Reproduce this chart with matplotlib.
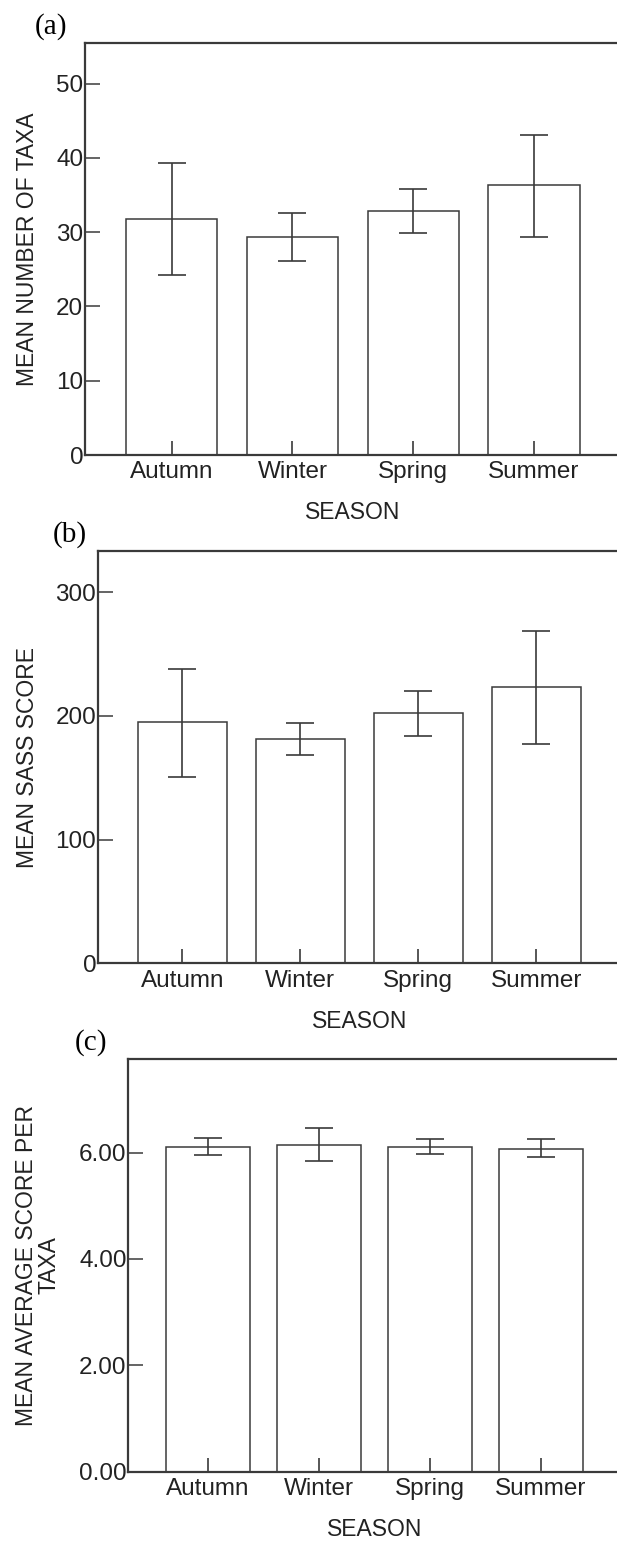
import matplotlib
matplotlib.use('agg')
import matplotlib.pyplot as plt
import numpy as np

seasons = ['Autumn', 'Winter', 'Spring', 'Summer']

# (a) mean number of taxa, with lower/upper error bar ends
taxa_mean = [31.8, 29.3, 32.9, 36.3]
taxa_lo = [24.2, 26.1, 29.9, 29.3]
taxa_hi = [39.3, 32.6, 35.8, 43.1]

# (b) mean SASS score
sass_mean = [194.8, 181.3, 202.3, 223.6]
sass_lo = [150.4, 168.1, 184.0, 177.0]
sass_hi = [237.9, 194.5, 220.1, 268.9]

# (c) mean average score per taxa
aspt_mean = [6.11, 6.15, 6.11, 6.07]
aspt_lo = [5.95, 5.84, 5.98, 5.91]
aspt_hi = [6.27, 6.47, 6.26, 6.26]

W, H = 617, 1544
LINE = '#3a3a3a'
TXT = '#222222'
SANS = ['Liberation Sans', 'DejaVu Sans']
SERIF = ['Liberation Serif', 'DejaVu Serif']

fig = plt.figure(figsize=(W / 100, H / 100), dpi=100)


def panel(box, mean, lo, hi, ymax, yticks, fmt, ylabel, ylabel_x, tag, tag_xy):
    left, top, right, bottom = box
    ax = fig.add_axes([left / W, 1 - bottom / H, (right - left) / W, (bottom - top) / H])
    ax.set_axisbelow(False)  # the inward x ticks show over the bar bases
    x = np.arange(len(seasons))
    mean = np.array(mean)
    err = [mean - np.array(lo), np.array(hi) - mean]
    ax.bar(x, mean, width=0.755, color='white', edgecolor=LINE, linewidth=1.1, zorder=2)
    ax.errorbar(x, mean, yerr=err, fmt='none', ecolor=LINE, elinewidth=1.2,
                capsize=10, capthick=1.2, zorder=3)
    ax.set_xlim(-0.72, 3.72)
    ax.set_ylim(0, ymax)
    ax.set_xticks(x)
    ax.set_xticklabels(seasons, family=SANS, fontsize=17.5, color=TXT)
    ax.set_yticks(yticks)
    ax.set_yticklabels([fmt.format(v) for v in yticks], family=SANS, fontsize=17.5,
                       color=TXT)
    ax.tick_params(axis='x', direction='in', length=10, width=1.2, color=LINE, pad=4.5)
    ax.tick_params(axis='y', direction='in', length=10.5, width=1.1, color=LINE, pad=1)
    for s in ax.spines.values():
        s.set_color(LINE)
        s.set_linewidth(1.6)
    ax.set_xlabel('SEASON', family=SANS, fontsize=16.5, color=TXT, labelpad=13)
    ax.set_ylabel(ylabel, family=SANS, fontsize=16.5, color=TXT, linespacing=0.95,
                  va='center', ha='center')
    ax.yaxis.set_label_coords((ylabel_x - left) / (right - left), 0.5)
    fig.text(tag_xy[0] / W, 1 - tag_xy[1] / H, tag, family=SERIF, fontsize=21,
             ha='left', va='center')
    return ax


panel((84.6, 42.7, 621, 455), taxa_mean, taxa_lo, taxa_hi, 55.5,
      [0, 10, 20, 30, 40, 50], '{:.0f}', 'MEAN NUMBER OF TAXA', 27.5, '(a)', (35, 27))

panel((97.6, 551, 621, 963.3), sass_mean, sass_lo, sass_hi, 333.3,
      [0, 100, 200, 300], '{:.0f}', 'MEAN SASS SCORE', 27.5, '(b)', (53, 535))

panel((128, 1059, 621, 1471.7), aspt_mean, aspt_lo, aspt_hi, 7.76,
      [0, 2, 4, 6], '{:.2f}', 'MEAN AVERAGE SCORE PER\nTAXA', 38, '(c)', (75, 1043))

fig.savefig('out.png', dpi=100)
